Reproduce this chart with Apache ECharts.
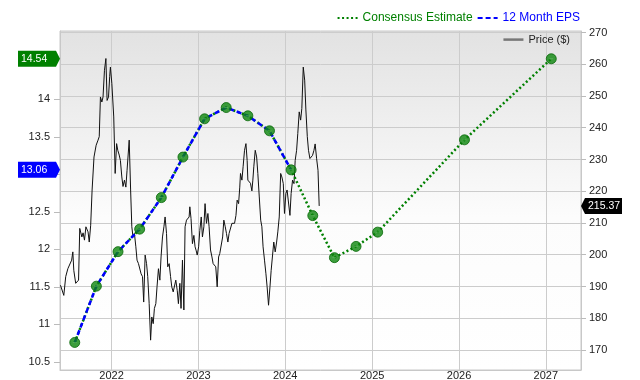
<!DOCTYPE html>
<html><head><meta charset="utf-8">
<script src="https://cdn.jsdelivr.net/npm/echarts@6/dist/echarts.min.js"></script>
<style>html,body{margin:0;padding:0;background:#fff}#c{width:640px;height:380px}</style>
</head><body><div id="c"></div>
<script>
// ---- data ----
const epsDates = ['2021-07-30','2021-10-29','2022-01-28','2022-04-29','2022-07-29','2022-10-28','2023-01-27','2023-04-28','2023-07-28','2023-10-27','2024-01-26','2024-04-26','2024-07-26','2024-10-25','2025-01-24','2026-01-24','2027-01-24'];
const epsValues = [10.76,11.51,11.97,12.27,12.69,13.23,13.74,13.89,13.78,13.58,13.06,12.45,11.89,12.04,12.23,13.46,14.54];
const actualCount = 11; // first 11 points are reported 12 Month EPS
const priceStart = '2021-05-31';
const priceDays = [0,5,14,22,31,39,47,52,56,64,70,76,81,90,95,101,107,116,121,127,133,141,150,158,163,
168,174,179,185,191,196,202,207,210,216,224,230,236,241,247,252,258,263,269,275,280,289,
295,300,305,311,317,322,328,334,339,345,350,356,362,367,373,379,384,390,395,401,406,412,418,
423,429,435,440,446,451,457,463,468,474,480,485,491,496,502,507,513,519,524,530,536,541,544,
549,555,561,566,571,575,581,586,592,597,603,608,614,620,625,631,637,642,648,653,659,665,670,
676,682,687,693,698,704,709,715,721,726,732,738,743,749,754,757,763,768,774,780,785,788,794,799,
805,809,813,819,825,830,836,842,847,852,858,864,869,875,881,886,892,897,903,909,914,920,926,
931,937,942,948,953,959,965,970,976,982,987,993,998,1004,1010,1015,1021,1027,1032,1038,1043,1049,1054,1060,1066,1071,1077,1083,1088];
const priceValues = [190.4,191.0,187.2,193.1,195.6,195.6,198.3,200.9,195.1,191.0,190.4,192.0,208.3,205.6,206.9,204.6,208.8,207.2,204.0,209.3,220.4,230.8,234.5,236.1,237.2,
249.7,248.1,249.7,258.1,261.8,248.6,249.7,256.1,259.1,254.0,243.4,225.6,235.0,232.9,231.4,229.7,224.5,221.5,223.5,221.3,226.6,236.1,
220.4,208.8,205.6,206.7,202.5,198.3,197.2,197.7,194.0,193.1,185.1,199.9,197.2,193.1,184.6,173.1,180.4,178.3,183.1,184.6,189.9,195.6,192.0,
199.3,205.6,208.8,211.9,206.7,196.2,197.2,193.1,189.9,188.3,187.8,192.0,188.8,184.6,191.0,183.1,198.3,182.6,208.8,210.9,210.4,211.9,215.1,
211.4,203.5,206.1,202.5,201.2,199.9,202.5,207.7,211.9,205.6,208.8,216.1,209.9,213.0,208.8,201.5,199.3,197.2,197.7,196.2,189.9,199.3,200.4,
200.4,205.6,210.9,208.8,206.7,204.0,206.7,207.2,209.9,209.3,209.9,212.4,217.2,216.1,221.3,225.6,223.5,227.7,232.9,235.0,229.7,223.5,224.0,222.5,
220.1,223.5,227.7,232.9,230.8,225.6,218.2,210.9,208.8,202.5,198.3,194.0,189.9,184.1,189.9,195.1,195.1,204.0,200.9,204.0,207.2,211.9,225.6,
224.5,222.4,213.0,219.3,220.4,219.8,212.4,219.3,223.5,222.4,229.7,232.9,238.2,245.0,242.4,246.1,259.1,255.0,245.6,237.2,232.9,230.3,230.3,231.3,232.9,234.9,230.4,226.6,215.37];
const leftTicks = [10.5,11,11.5,12,12.5,13,13.5,14];
const rightTicks = [170,180,190,200,210,220,230,240,250,260,270];
const lastEps = 13.06, lastEstimate = 14.54, lastPrice = 215.37;

// ---- build ----
const DAY = 86400000;
const ts = s => new Date(s + 'T00:00:00').getTime();
const t0 = ts(priceStart);
const priceData = priceDays.map((d, i) => [t0 + d * DAY, priceValues[i]]);
const epsData = epsDates.map((d, i) => [ts(d), epsValues[i]]);
const actualData = epsData.slice(0, actualCount);
const FONT = '"Liberation Sans", Arial, sans-serif';
const GREEN = '#008000', BLUE = '#0000ff';

const chart = echarts.init(document.getElementById('c'), null, {renderer: 'canvas'});
chart.setOption({
  animation: false,
  textStyle: {fontFamily: FONT},
  grid: {
    left: 60, right: 59, top: 31, bottom: 10, show: true, borderColor: '#c8c8c8', borderWidth: 1,
    outerBoundsMode: 'none', containLabel: false,
    backgroundColor: new echarts.graphic.LinearGradient(0, 0, 0, 1, [
      {offset: 0, color: '#e2e2e2'}, {offset: 0.55, color: '#fcfcfc'}, {offset: 1, color: '#ffffff'}])
  },
  legend: [{
    right: 60, top: 12, padding: 0, itemWidth: 20, itemHeight: 14, itemGap: 4,
    itemStyle: {opacity: 0},
    textStyle: {fontSize: 12, fontFamily: FONT},
    data: [{name: 'Consensus Estimate', textStyle: {color: GREEN}}, {name: '12 Month EPS', textStyle: {color: BLUE}}]
  }, {
    right: 70, top: 34, padding: 0, itemWidth: 20, itemHeight: 14,
    itemStyle: {opacity: 0},
    textStyle: {fontSize: 11, color: '#222', fontFamily: FONT},
    lineStyle: {color: '#777', width: 2.5, type: 'solid'},
    data: ['Price ($)']
  }],
  xAxis: {
    type: 'time', min: ts('2021-05-29'), max: ts('2027-05-29'),
    minInterval: 365 * DAY, maxInterval: 366 * DAY,
    axisLine: {show: true, lineStyle: {color: '#c8c8c8'}},
    axisTick: {show: false},
    splitLine: {show: true, lineStyle: {color: '#cccccc', width: 1}},
    axisLabel: {fontSize: 11, color: '#222', margin: 0, lineHeight: 11, fontFamily: FONT,
      formatter: v => String(new Date(v).getFullYear())}
  },
  yAxis: [{
    type: 'value', position: 'left', min: 10.393, max: 14.91,
    axisLine: {show: true, lineStyle: {color: '#c8c8c8'}},
    axisTick: {show: true, length: 6, customValues: leftTicks, lineStyle: {color: '#bbb'}},
    axisLabel: {customValues: leftTicks, fontSize: 11, color: '#222', margin: 10, fontFamily: FONT},
    splitLine: {show: false}
  }, {
    type: 'value', position: 'right', min: 163.7, max: 270.47,
    axisLine: {show: true, lineStyle: {color: '#c8c8c8'}},
    axisTick: {show: true, length: 5, customValues: rightTicks, lineStyle: {color: '#bbb'}},
    axisLabel: {customValues: rightTicks, fontSize: 11, color: '#222', margin: 8, fontFamily: FONT},
    splitLine: {show: true, lineStyle: {color: '#cccccc', width: 1}}
  }],
  series: [{
    name: 'Price ($)', type: 'line', yAxisIndex: 1, data: priceData, symbol: 'none',
    lineStyle: {color: '#111', width: 1}, itemStyle: {color: '#777'}, z: 2
  }, {
    name: 'Consensus Estimate', type: 'line', yAxisIndex: 0, data: epsData, symbol: 'none',
    lineStyle: {color: GREEN, width: 2.5, type: [2, 2.5]}, itemStyle: {color: GREEN}, z: 3
  }, {
    name: '12 Month EPS', type: 'line', yAxisIndex: 0, data: actualData, symbol: 'none',
    lineStyle: {color: BLUE, width: 2.5, type: [5, 3]}, itemStyle: {color: BLUE}, z: 4
  }, {
    name: 'eps-dots', type: 'scatter', yAxisIndex: 0, data: epsData, symbol: 'circle', symbolSize: 10,
    itemStyle: {color: '#0d860d', borderColor: '#086808', borderWidth: 1}, z: 5
  }, {
    name: 'eps-dash', type: 'scatter', yAxisIndex: 0, data: epsData, symbol: 'rect', symbolSize: [4, 1],
    itemStyle: {color: 'rgba(110,190,110,0.7)'}, z: 6
  }]
});

// ---- value tags on the axes ----
function tags() {
  const xL = chart.convertToPixel({xAxisIndex: 0}, ts('2021-05-29'));
  const xR = chart.convertToPixel({xAxisIndex: 0}, ts('2027-05-29'));
  const out = [];
  function tag(tip, y, toRight, color, text, w) {
    const h = 8, a = 4;
    let pts, tx;
    if (toRight) {
      const br = tip - a, bl = br - w;
      pts = [[bl, y - h], [br, y - h], [tip, y], [br, y + h], [bl, y + h]];
      tx = bl + 3;
    } else {
      const bl = tip + a, br = bl + w;
      pts = [[br, y - h], [bl, y - h], [tip, y], [bl, y + h], [br, y + h]];
      tx = bl + 3;
    }
    out.push({type: 'polygon', shape: {points: pts}, style: {fill: color}, silent: true, z: 100});
    out.push({type: 'text', x: tx, y: y, silent: true, z: 101,
      style: {text: text, fill: '#fff', font: '10.5px ' + FONT, verticalAlign: 'middle'}});
  }
  tag(xL, chart.convertToPixel({yAxisIndex: 0}, lastEstimate), true, GREEN, lastEstimate.toFixed(2), 38);
  tag(xL, chart.convertToPixel({yAxisIndex: 0}, lastEps), true, BLUE, lastEps.toFixed(2), 38);
  tag(xR, chart.convertToPixel({yAxisIndex: 1}, lastPrice), false, '#000', lastPrice.toFixed(2), 37);
  chart.setOption({graphic: out});
}
tags();
</script></body></html>
